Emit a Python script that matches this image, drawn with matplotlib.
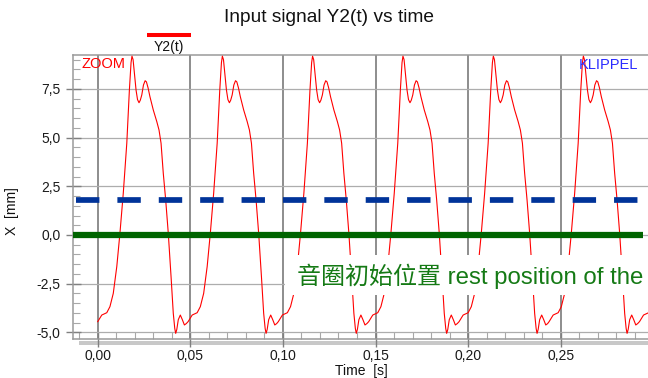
import matplotlib
matplotlib.use("Agg")
import matplotlib.pyplot as plt
import numpy as np
from matplotlib.lines import Line2D
from matplotlib.patches import Rectangle
from matplotlib.ticker import MultipleLocator

plt.rcParams["font.family"] = ["Liberation Sans", "Noto Sans CJK SC", "DejaVu Sans"]
plt.rcParams["lines.scale_dashes"] = False

# ---- data -------------------------------------------------------------
# one cycle of the input signal Y2(t): time since cycle onset [s], displacement [mm]
cycle_t = [0.0000, 0.0022, 0.0049, 0.0066, 0.0084, 0.0103, 0.0120, 0.0138,
           0.0157, 0.0171, 0.0180, 0.0185, 0.0191, 0.0199, 0.0207, 0.0215,
           0.0223, 0.0230, 0.0238, 0.0247, 0.0256, 0.0263, 0.0272, 0.0282,
           0.0300, 0.0319, 0.0331, 0.0342, 0.0354, 0.0367, 0.0381, 0.0396,
           0.0408, 0.0416, 0.0421, 0.0427, 0.0435, 0.0446, 0.0457, 0.0468,
           0.0478]
cycle_y = [-4.45, -4.11, -3.99, -3.68, -3.00, -1.62, 0.09, 2.14,
           4.71, 7.44, 8.85, 9.18, 9.00, 8.20, 7.44, 6.95,
           6.79, 6.92, 7.19, 7.70, 7.92, 7.86, 7.55, 7.10,
           6.42, 5.82, 5.39, 4.71, 3.17, 1.80, 0.09, -2.14,
           -4.02, -4.80, -5.05, -4.85, -4.35, -4.11, -4.35, -4.62,
           -4.55]
# onset time of each cycle [s]
cycle_onsets = [0.0000, 0.0488, 0.0975, 0.1463, 0.1951, 0.2437, 0.2925]

dashed_level = 1.8          # mm, blue dashed reference
dashed_span = [-0.0117, 0.2916]
rest_level = 0.0            # mm, rest position
rest_span = [-0.0133, 0.2944]

x_ticks = [0.00, 0.05, 0.10, 0.15, 0.20, 0.25]
x_tick_labels = ["0,00", "0,05", "0,10", "0,15", "0,20", "0,25"]
y_ticks = [-5.0, -2.5, 0.0, 2.5, 5.0, 7.5]
y_tick_labels = ["-5,0", "-2,5", "0,0", "2,5", "5,0", "7,5"]

t = np.concatenate([onset + np.asarray(cycle_t) for onset in cycle_onsets])
y = np.concatenate([np.asarray(cycle_y) for _ in cycle_onsets])

# ---- figure -----------------------------------------------------------
W, H = 648, 378
fig = plt.figure(figsize=(W / 100, H / 100), dpi=100)
ax = fig.add_axes([73 / W, 1 - 339 / H, (W - 73) / W, (339 - 55) / H])
ax.set_xlim(-0.01334, 0.2971)
ax.set_ylim(-5.34, 9.24)

ax.plot(t, y, color="red", lw=0.8, zorder=3)
ax.plot(dashed_span, [dashed_level] * 2, color="#003399", lw=4.1,
        dashes=(16.85, 12.95), dash_capstyle="butt", zorder=4)
ax.plot(rest_span, [rest_level] * 2, color="#006400", lw=4.5,
        solid_capstyle="butt", zorder=5)

# grid
ax.set_axisbelow(True)
ax.grid(axis="x", which="major", color="#858585", lw=1.3)
ax.grid(axis="y", which="major", color="#adadad", lw=0.9)

# ticks
ax.set_xticks(x_ticks, x_tick_labels)
ax.set_yticks(y_ticks, y_tick_labels)
ax.xaxis.set_minor_locator(MultipleLocator(0.01))
ax.yaxis.set_minor_locator(MultipleLocator(0.5))
ax.tick_params(which="major", direction="inout", length=10.8, width=1.0,
               color="#808080", labelsize=10, labelcolor="#1a1a1a")
ax.tick_params(axis="x", which="major", pad=1.5)
ax.tick_params(axis="y", which="major", pad=3.6)
ax.tick_params(which="minor", direction="in", length=4.8, width=0.8,
               color="#a8a8a8")

for side in ("left", "top", "bottom"):
    ax.spines[side].set_color("#9a9a9a")
    ax.spines[side].set_linewidth(1.1)
ax.spines["right"].set_visible(False)

# light shadow strip under the time axis
fig.add_artist(Rectangle((79 / W, 1 - 345 / H), 1 - 79 / W, 4.5 / H,
                         transform=fig.transFigure, facecolor="#c8c8c8",
                         edgecolor="none", zorder=-1))

# annotation on a white background
ax.add_patch(Rectangle((0.3687, 0.1549), 0.64, 0.1408, transform=ax.transAxes,
                       facecolor="white", edgecolor="none", clip_on=False,
                       zorder=6))
ax.text(0.3896, 0.2218, "音圈初始位置 rest position of the",
        transform=ax.transAxes, ha="left", va="center", fontsize=17.3,
        color="#157a15", zorder=7)

ax.text(82 / W, 1 - 64.5 / H, "ZOOM", transform=fig.transFigure,
        ha="left", va="center", fontsize=10.5, color="red", zorder=8)
ax.text(579 / W, 1 - 65 / H, "KLIPPEL", transform=fig.transFigure,
        ha="left", va="center", fontsize=10.5, color="#2b2bff", zorder=8)

# title, legend and axis labels
fig.text(0.508, 1 - 17 / H, "Input signal Y2(t) vs time", ha="center",
         va="center", fontsize=13.8, color="#111111")
fig.add_artist(Line2D([147 / W, 191 / W], [1 - 35.3 / H] * 2, color="red",
                      lw=2.9, solid_capstyle="butt"))
fig.text(169 / W, 1 - 47.5 / H, "Y2(t)", ha="center", va="center",
         fontsize=10, color="#111111")
fig.text(12 / W, 1 - 211 / H, "X  [mm]", rotation=90, ha="center",
         va="center", fontsize=10, color="#111111")
fig.text(361 / W, 1 - 371 / H, "Time  [s]", ha="center", va="center",
         fontsize=10, color="#111111")

fig.savefig("out.png", dpi=100)
